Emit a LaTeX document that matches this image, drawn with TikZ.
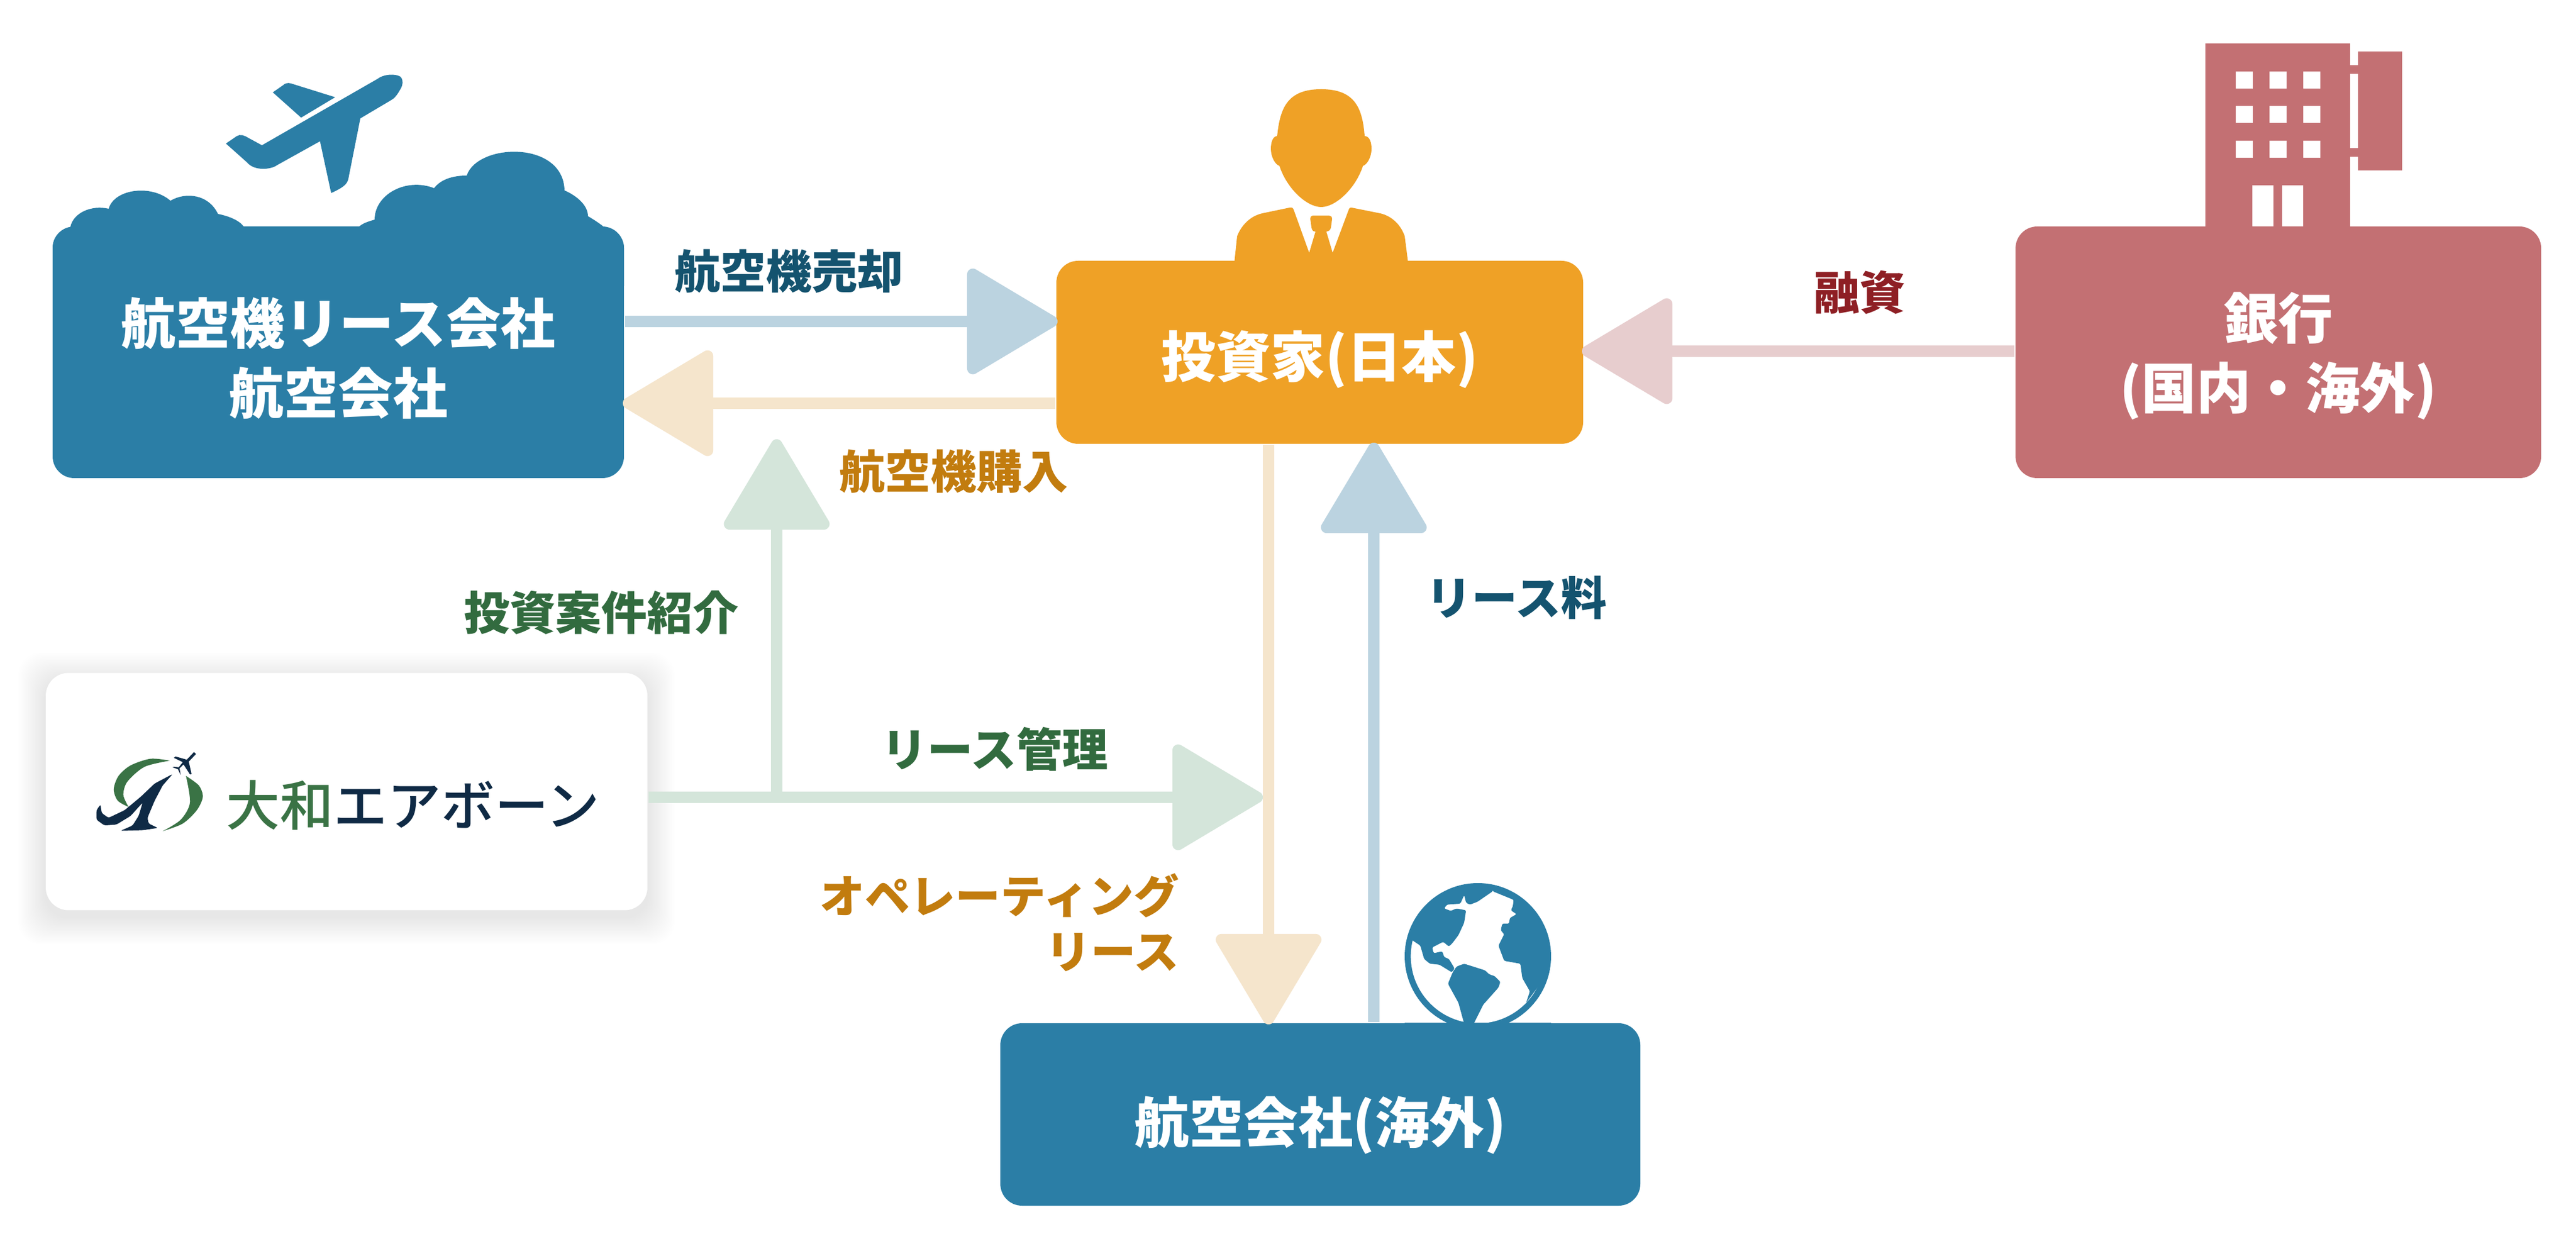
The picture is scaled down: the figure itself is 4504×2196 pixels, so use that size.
\documentclass[tikz,border=0pt]{standalone}
\usepackage{fontspec}
\setmainfont{Noto Sans CJK JP}
\newfontfamily\logofont{Noto Sans CJK JP Medium}
\usetikzlibrary{arrows.meta,calc}
\definecolor{cBlue}{HTML}{2B7EA6}
\definecolor{cOrange}{HTML}{EFA126}
\definecolor{cRed}{HTML}{C37073}
\definecolor{aBlue}{HTML}{BBD3E0}
\definecolor{aCream}{HTML}{F5E5CC}
\definecolor{aGreen}{HTML}{D4E5DA}
\definecolor{aPink}{HTML}{E7CDCE}
\definecolor{tBlue}{HTML}{14536F}
\definecolor{tOrange}{HTML}{C27C0E}
\definecolor{tGreen}{HTML}{326B3F}
\definecolor{tRed}{HTML}{8E1F24}
\definecolor{lNavy}{HTML}{0F2A45}
\definecolor{lGreen}{HTML}{3A7345}
\newcommand\dnstrut[1]{\rule{0pt}{#1}}
\tikzset{
  x=0.1pt,y=-0.1pt,
  mainbox/.style={rectangle,rounded corners=3.8pt,inner sep=0pt,text=white,align=center,font=\fontsize{9.55}{12.2}\selectfont\bfseries},
  lbl/.style={inner sep=0pt,align=right,font=\fontsize{8}{9.7}\selectfont\bfseries},
  flow/.style={line width=2pt,shorten >=-0.4pt,-{Triangle[length=16.8pt,width=19.5pt,round,line width=2pt]}}
}
\begin{document}
\begin{tikzpicture}
\useasboundingbox (0,0) rectangle (4504,2196);
\fill[white] (0,0) rectangle (4504,2196);

% card shadow
\foreach \i in {1,...,24}{
  \fill[black,opacity=.004,rounded corners=4pt] (80-2*\i,1177+12-2*\i) rectangle (1132+2*\i,1591+12+2*\i);
}

% boxes
\node[mainbox,fill=cBlue,minimum width=99.9pt,minimum height=44pt] (lease) at (591.5,616) {\dnstrut{10.2pt}航空機リース会社\\航空会社};
\node[mainbox,fill=cOrange,minimum width=92.1pt,minimum height=32pt] (inv) at (2307.5,616) {\dnstrut{10.6pt}投資家(日本)};
\node[mainbox,fill=cRed,minimum width=91.9pt,minimum height=44pt] (bank) at (3983.5,616) {\dnstrut{9.5pt}銀行\\(国内・海外)};
\node[mainbox,fill=cBlue,minimum width=111.9pt,minimum height=31.9pt] (air) at (2308.5,1948.5) {\dnstrut{12pt}航空会社(海外)};
\node[rectangle,rounded corners=4pt,fill=white,minimum width=105.2pt,minimum height=41.5pt,inner sep=0pt] (card) at (606,1384) {};

% cloud
\fill[cBlue] (92,434) .. controls (92,415) and (105,400) .. (123,397)
  .. controls (128,372) and (160,358) .. (190,365)
  .. controls (200,330) and (265,322) .. (298,351)
  .. controls (325,335) and (365,340) .. (381,374)
  .. controls (400,378) and (418,385) .. (426,396)
  -- (628,396)
  .. controls (635,390) and (645,387) .. (655,384)
  .. controls (655,340) and (710,310) .. (759,329)
  .. controls (772,312) and (795,307) .. (816,307)
  .. controls (835,250) and (985,245) .. (987,333)
  .. controls (1010,343) and (1028,360) .. (1028,378)
  .. controls (1040,385) and (1050,392) .. (1056,397)
  .. controls (1075,400) and (1091,415) .. (1091,434)
  -- (1091,500) -- (92,500) -- cycle;

% airplane
\fill[cBlue] (660,138) .. controls (670,130) and (690,128) .. (700,134)
  .. controls (706,140) and (704,150) .. (700,156)
  .. controls (695,165) and (690,172) .. (684,175)
  -- (630,207) -- (609,313)
  .. controls (607,322) and (600,328) .. (579,337.5)
  -- (559.5,247) -- (484,289)
  .. controls (475,296) and (445,300) .. (432,284)
  -- (395,251) -- (414,238)
  .. controls (420,234) and (428,237) .. (434,241)
  -- (458,254) -- cycle;
\fill[cBlue] (586,170) -- (509,146) .. controls (503,144) and (498,146) .. (495,149)
  -- (477,161.5) -- (526.5,205.7) -- cycle;

% person
\fill[cOrange] (2233,238) .. controls (2238,190) and (2250,156) .. (2310,156)
  .. controls (2370,156) and (2382,190) .. (2386,238)
  .. controls (2395,238) and (2398,250) .. (2398,260)
  .. controls (2398,275) and (2390,288) .. (2383,290)
  .. controls (2370,330) and (2335,362) .. (2310,362)
  .. controls (2285,362) and (2250,330) .. (2237,290)
  .. controls (2230,288) and (2222,275) .. (2222,260)
  .. controls (2222,250) and (2225,238) .. (2233,238) -- cycle;
\fill[cOrange] (2158,460) -- (2163,413) .. controls (2170,395) and (2185,378) .. (2207,373)
  -- (2255,363) .. controls (2259,362) and (2261,364) .. (2262,367)
  -- (2289,442) -- (2300,405) -- (2296,404) .. controls (2294,402) and (2294,401) .. (2293,398)
  -- (2291,383) .. controls (2291,379) and (2293,377) .. (2295,377)
  -- (2324,377) .. controls (2327,377) and (2329,379) .. (2329,383)
  -- (2327,398) .. controls (2326,402) and (2324,404) .. (2319,405)
  -- (2330,442) -- (2358,367) .. controls (2359,364) and (2361,362) .. (2363,363)
  -- (2413,373) .. controls (2435,378) and (2450,395) .. (2456,413)
  -- (2462,460) -- cycle;

% bank building
\fill[cRed,even odd rule] (3856,76) rectangle (4109,400)
  (3909,125) rectangle (3939,155) (3968,125) rectangle (3998,155) (4027,125) rectangle (4057,155)
  (3909,185) rectangle (3939,215) (3968,185) rectangle (3998,215) (4027,185) rectangle (4057,215)
  (3909,246) rectangle (3939,276) (3968,246) rectangle (3998,276) (4027,246) rectangle (4057,276)
  (3938,324) rectangle (3975,396) (3990,324) rectangle (4027,396);
\fill[cRed] (4123,90) rectangle (4200,298);
\fill[cRed] (4105,114) rectangle (4127,129);
\fill[cRed] (4105,259) rectangle (4127,274);

% globe
\begin{scope}[shift={(2400,1520)},x=0.03333pt,y=-0.03333pt]
  \fill[cBlue] (552,456) circle[radius=384*0.03333pt];
  \fill[white] (552,456) circle[radius=352*0.03333pt];
  \fill[cBlue,rounded corners=.25pt] (205,370) -- (250,400) -- (270,470) -- (300,495) -- (350,500) -- (415,540) -- (430,520) -- (400,470) -- (375,460) -- (365,430) -- (320,440) -- (312,410) -- (370,380) -- (400,405) -- (420,385) -- (450,345) -- (480,280) -- (490,215) -- (440,205) -- (410,218) -- (375,205) -- (390,185) -- (460,180) -- (480,135) -- (490,175) -- (510,185) -- (550,170) -- (630,115) -- (630,90) -- (550,85) -- (400,110) -- (280,190) -- (200,310) -- cycle;
  \fill[cBlue,rounded corners=.25pt] (630,115) -- (740,160) -- (735,195) -- (725,215) -- (755,235) -- (720,255) -- (715,285) -- (680,285) -- (672,320) -- (690,340) -- (660,400) -- (690,480) -- (775,495) -- (785,570) -- (825,640) -- (805,700) -- (880,600) -- (920,450) -- (880,300) -- (780,170) -- (630,90) -- cycle;
  \fill[cBlue,rounded corners=.25pt] (530,810) -- (580,710) -- (660,620) -- (670,590) -- (640,560) -- (610,550) -- (590,530) -- (480,495) -- (440,510) -- (420,540) -- (395,600) -- (450,700) -- (480,810) -- cycle;
\end{scope}
\fill[cBlue] (2456,1788) rectangle (2712,1800);

% logo symbol
\begin{scope}[shift={(60,1150)},x=0.07015pt,y=-0.03333pt]
  \fill[lGreen] plot[smooth] coordinates {(338,540) (290,530) (240,565) (210,620) (198,690) (208,750) (235,783)} -- plot[smooth] coordinates {(235,783) (222,720) (232,650) (275,572) (338,540)} -- cycle;
  \fill[lGreen] plot[smooth] coordinates {(378,620) (410,670) (420,730) (405,800) (370,870) (320,910)} -- plot[smooth] coordinates {(320,910) (365,850) (388,760) (378,620)} -- cycle;
  \fill[lNavy,rounded corners=.3pt] (345,610) -- (300,660) -- (265,730) -- (225,800) -- (185,840) -- (168,815) -- (165,770) -- (155,800) -- (155,850) -- (175,880) -- (205,875) -- (240,830) -- (270,760) -- (260,830) -- (245,880) -- (215,908) -- (270,905) -- (308,893) -- (285,870) -- (282,840) -- (300,750) -- (320,670) -- cycle;
  \fill[lNavy] (398,495) -- (403,505) -- (385,545) -- (392,610) -- (388,612) -- (372,560) -- (362,580) -- (365,615) -- (358,585) -- (345,575) -- (348,572) -- (360,575) -- (370,548) -- (348,525) -- (352,518) -- (380,535) -- cycle;
\end{scope}
\node[inner sep=0pt,font=\fontsize{9.4}{11}\logofont] (logo) at (722,1408) {\textcolor{lGreen}{大和}\textcolor{lNavy}{エアボーン}};

% connector coordinates
\coordinate (yA) at (0,562);
\coordinate (yB) at (0,705);
\coordinate (yC) at (0,614);
\coordinate (yD) at (0,1394);
\coordinate (xA) at (2218,0);
\coordinate (xB) at (2402,0);
\coordinate (jn) at (1358,1394);
\coordinate (gUp) at (1358,772);
\coordinate (gR) at (2204,1394);

% connectors
\draw[flow,aBlue] (lease.east|-yA) -- (inv.west|-yA);
\draw[flow,aCream] (inv.west|-yB) -- (lease.east|-yB);
\draw[flow,aPink] (bank.west|-yC) -- (inv.east|-yC);
\draw[flow,aCream] (inv.south-|xA) -- (air.north-|xA);
\draw[flow,aBlue] (air.north-|xB) -- (inv.south-|xB);
\draw[flow,aGreen] (card.east|-yD) -- (gR);
\draw[flow,aGreen] (jn) -- (gUp);

% labels
\node[lbl,text=tBlue] (l1) at (1379,474) {航空機売却};
\node[lbl,text=tRed] (l2) at (3251,511) {融資};
\node[lbl,text=tOrange] (l3) at (1667,824) {航空機購入};
\node[lbl,text=tGreen] (l4) at (1051,1071) {投資案件紹介};
\node[lbl,text=tGreen] (l5) at (1739,1310) {リース管理};
\node[lbl,text=tBlue] (l6) at (2651,1045) {リース料};
\node[lbl,text=tOrange,anchor=east,font=\fontsize{7.9}{9.7}\selectfont\bfseries] (l7) at (2063,1613) {オペレーティング\\リース};
\end{tikzpicture}
\end{document}
